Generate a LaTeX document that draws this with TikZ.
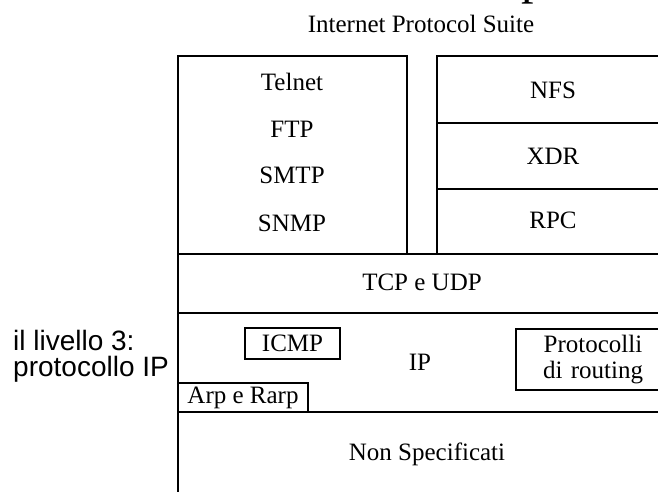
\documentclass[tikz,border=0pt]{standalone}
\usepackage{fontspec}
\setmainfont{Liberation Serif}
\newfontfamily\arialf{Liberation Sans}
\begin{document}
\begin{tikzpicture}[x=1pt,y=-1pt,
  layer/.style={draw=black,line width=1.5pt,inner sep=0pt},
  lbl/.style={inner sep=0pt,anchor=base,font=\fontsize{25}{29}\selectfont},
  sbox/.style={draw=black,line width=1.4pt,inner sep=0pt,font=\fontsize{25}{26}\selectfont,align=center},
  side/.style={inner sep=0pt,anchor=base west,font=\arialf\fontsize{28}{28}\selectfont}]
\useasboundingbox (0,0) rectangle (658,491);
% title fragment and title
\node[inner sep=0pt,anchor=base west,font=\fontsize{50}{50}\selectfont] (frag) at (521,-7) {p};
\node[lbl] (title) at (421,32) {Internet Protocol Suite};
% layers
\node[layer,minimum width=229pt,minimum height=198pt] (apps) at (292.5,155) {};
\node[layer,minimum width=232pt,minimum height=67pt] (nfsb) at (553,89.5) {};
\node[layer,minimum width=232pt,minimum height=66pt] (xdrb) at (553,156) {};
\node[layer,minimum width=232pt,minimum height=65pt] (rpcb) at (553,221.5) {};
\node[layer,minimum width=491pt,minimum height=59pt] (tcpb) at (423.5,283.5) {};
\node[layer,minimum width=491pt,minimum height=99pt] (ipb) at (423.5,362.5) {};
\node[layer,minimum width=491pt,minimum height=108pt] (nsb) at (423.5,466) {};
% application texts
\node[lbl] (telnet) at (292,90) {Telnet};
\node[lbl] (ftp) at (292,137) {FTP};
\node[lbl] (smtp) at (292,183) {SMTP};
\node[lbl] (snmp) at (292,231) {SNMP};
\node[lbl] (nfs) at (553,98) {NFS};
\node[lbl] (xdr) at (553,164) {XDR};
\node[lbl] (rpc) at (553,228) {RPC};
\node[lbl] (tcp) at (422,290) {TCP e UDP};
\node[lbl] (ip) at (420,370) {IP};
\node[lbl] (ns) at (427,460) {Non Specificati};
% small boxes
\node[sbox,minimum width=95pt,minimum height=31pt] (icmp) at (292.5,343.5) {ICMP};
\node[sbox,minimum width=130pt,minimum height=29pt] (arp) at (243,397.5) {Arp e Rarp};
\node[sbox,minimum width=154pt,minimum height=61pt,text width=154pt] (routing) at (593,359.5) {Protocolli\\di routing};
% side label
\node[side] (side1) at (13,350) {il livello 3:};
\node[side] (side2) at (13,376) {protocollo IP};
\end{tikzpicture}
\end{document}
